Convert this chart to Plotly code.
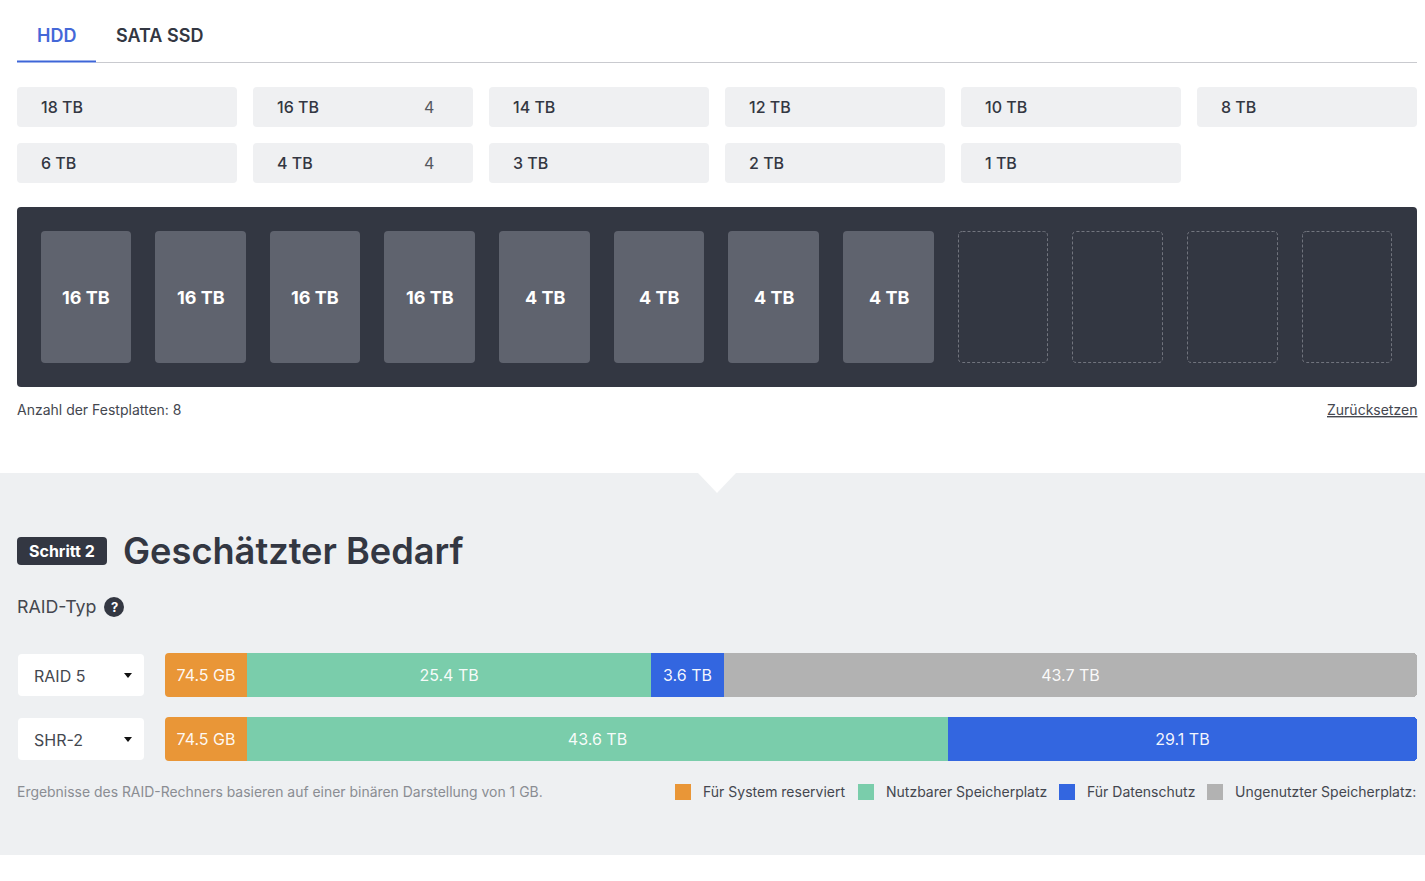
import plotly.graph_objects as go

W, H = 1425, 881
FONT = "Inter, 'Noto Sans', sans-serif"
DARK = "#333742"
BG = "#eef0f2"

tabs = ["HDD", "SATA SSD"]
capacities = ["18 TB", "16 TB", "14 TB", "12 TB", "10 TB", "8 TB",
              "6 TB", "4 TB", "3 TB", "2 TB", "1 TB"]
capacity_counts = ["", "4", "", "", "", "", "", "4", "", "", ""]
bays = ["16 TB", "16 TB", "16 TB", "16 TB", "4 TB", "4 TB", "4 TB", "4 TB", "", "", "", ""]

raid_types = ["RAID 5", "SHR-2"]
series_names = ["Für System reserviert", "Nutzbarer Speicherplatz", "Für Datenschutz", "Ungenutzter Speicherplatz:"]
series_colors = ["#e99637", "#7acdab", "#3366e0", "#b2b2b2"]
# Share of each bar's drawn length (percent)
system_share = [6.55, 6.55]
usable_share = [32.27, 55.99]
protect_share = [5.83, 37.46]
unused_share = [55.35, 0]
system_text = ["74.5 GB", "74.5 GB"]
usable_text = ["25.4 TB", "43.6 TB"]
protect_text = ["3.6 TB", "29.1 TB"]
unused_text = ["43.7 TB", ""]

fx = lambda x: x / W
fy = lambda y: 1 - y / H


def rrect(x0, y0, x1, y1, r=4):
    pts = [("M", x0 + r, y0), ("L", x1 - r, y0), ("Q", x1, y0, x1, y0 + r), ("L", x1, y1 - r),
           ("Q", x1, y1, x1 - r, y1), ("L", x0 + r, y1), ("Q", x0, y1, x0, y1 - r),
           ("L", x0, y0 + r), ("Q", x0, y0, x0 + r, y0)]
    out = []
    for p in pts:
        vals = p[1:]
        coords = [f"{fx(vals[i]):.6f},{fy(vals[i + 1]):.6f}" for i in range(0, len(vals), 2)]
        out.append(p[0] + " ".join(coords))
    return " ".join(out) + " Z"


def poly(points):
    return "M" + " L".join(f"{fx(x):.6f},{fy(y):.6f}" for x, y in points) + " Z"


shapes, notes = [], []


def box(x0, y0, x1, y1, fill, r=4, line=None, dash=None, layer="below"):
    shapes.append(dict(type="path", xref="paper", yref="paper", path=rrect(x0, y0, x1, y1, r),
                       fillcolor=fill, layer=layer,
                       line=dict(width=1 if line else 0, color=line or fill, dash=dash or "solid")))


def shape_poly(points, fill, layer="below"):
    shapes.append(dict(type="path", xref="paper", yref="paper", path=poly(points),
                       fillcolor=fill, layer=layer, line=dict(width=0)))


def text(x, y, s, size=14, color=DARK, weight=400, anchor="left"):
    notes.append(dict(xref="paper", yref="paper", x=fx(x), y=fy(y), text=s, showarrow=False,
                      xanchor=anchor, yanchor="middle", borderpad=0, borderwidth=0,
                      font=dict(family=FONT, size=size, color=color, weight=weight)))


# Tabs
box(96, 62, 1417, 63, "#c9cacf", r=0)
box(17, 60.5, 96, 62.5, "#3e66d8", r=0)
text(37, 35.5, tabs[0], 18, "#4468d8", 600)
text(116, 35.5, tabs[1], 18, DARK, 600)

# Capacity buttons
for i, (cap, cnt) in enumerate(zip(capacities, capacity_counts)):
    col, row = i % 6, i // 6
    x0 = 17 + 236 * col
    y0 = 87 + 56 * row
    box(x0, y0, x0 + 220, y0 + 40, "#eff0f2")
    text(x0 + 23.6, y0 + 20, cap, 16, DARK, 500)
    if cnt:
        text(x0 + 175.5, y0 + 20, cnt, 16, "#55585f", 400, "center")

# Drive bays
box(17, 207, 1417, 387, DARK)
bay_x0 = [41, 155, 270, 384, 499, 614, 728, 843, 958, 1072, 1187, 1302]
bay_x1 = [131, 246, 360, 475, 590, 704, 819, 934, 1048, 1163, 1278, 1392]
for x0, x1, label in zip(bay_x0, bay_x1, bays):
    if label:
        box(x0, 231, x1, 363, "#5f636e")
        text((x0 + x1) / 2, 297, label, 18, "#ffffff", 700, "center")
    else:
        box(x0 + 0.5, 231.5, x1 - 0.5, 362.5, DARK, line="#72757e", dash="3px,2px")
text(17, 409.5, "Anzahl der Festplatten: 8", 14, "#44474f")
text(1416.5, 409.5, "<u>Zurücksetzen</u>", 14, "#44474f", 400, "right")

# Lower section
shapes.append(dict(type="rect", xref="paper", yref="paper", x0=0, x1=1, y0=fy(855), y1=fy(473),
                   fillcolor=BG, layer="below", line=dict(width=0)))
shape_poly([(698, 473), (736, 473), (717, 493)], "#ffffff")
box(17, 537, 107, 565, DARK)
text(61.5, 551, "Schritt 2", 16, "#ffffff", 700, "center")
text(123, 551, "Geschätzter Bedarf", 36.2, DARK, 600)
text(17, 606.5, "RAID-Typ", 17.8, "#44474f")
shapes.append(dict(type="circle", xref="paper", yref="paper", x0=fx(104), x1=fx(124), y0=fy(617), y1=fy(597),
                   fillcolor=DARK, layer="below", line=dict(width=0)))
text(114, 607, "?", 13, "#ffffff", 700, "center")

# RAID selects
for i, name in enumerate(raid_types):
    y0 = 654 + 64 * i
    box(18, y0, 144, y0 + 42, "#ffffff")
    text(33.6, y0 + 22, name, 16, "#44474f")
    shape_poly([(124, y0 + 19), (132, y0 + 19), (128, y0 + 24)], "#111111")

# Footnote and legend
text(16.6, 791.5, "Ergebnisse des RAID-Rechners basieren auf einer binären Darstellung von 1 GB.", 13.95, "#8a8d93")
for x_sw, x_txt, name, color in zip([675, 858, 1059, 1207], [703, 886, 1087, 1235], series_names, series_colors):
    box(x_sw, 784, x_sw + 16, 800, color, r=0)
    text(x_txt, 791.5, name, 14, "#44474f")

# Left corners of the stacked bars
for yc in (675, 739):
    for y in (yc - 22, yc + 22):
        d = 1 if y < yc else -1
        p = (f"M{fx(165):.6f},{fy(y):.6f} L{fx(169):.6f},{fy(y):.6f} "
             f"Q{fx(165):.6f},{fy(y):.6f} {fx(165):.6f},{fy(y + 4 * d):.6f} Z")
        shapes.append(dict(type="path", xref="paper", yref="paper", path=p, fillcolor=BG,
                           layer="above", line=dict(width=0)))

fig = go.Figure()
for vals, labels, name, color in zip(
    [system_share, usable_share, protect_share, unused_share],
    [system_text, usable_text, protect_text, unused_text],
    series_names, series_colors,
):
    fig.add_trace(go.Bar(
        y=raid_types, x=vals, orientation="h", name=name, text=labels,
        marker=dict(color=color, line=dict(width=0)),
        textposition="inside", insidetextanchor="middle", textangle=0, constraintext="none",
        textfont=dict(family=FONT, size=16, color="rgba(255,255,255,0.95)"),
        hoverinfo="skip", cliponaxis=False,
    ))

fig.update_layout(
    width=W, height=H, margin=dict(l=0, r=0, t=0, b=0),
    paper_bgcolor="#ffffff", plot_bgcolor="rgba(0,0,0,0)",
    barmode="stack", bargap=0.3125, barcornerradius=4, showlegend=False,
    xaxis=dict(domain=[fx(165), fx(1417)], range=[0, 100], visible=False, fixedrange=True),
    yaxis=dict(domain=[fy(771), fy(643)], categoryorder="array", categoryarray=raid_types,
               autorange="reversed", visible=False, fixedrange=True),
    shapes=shapes, annotations=notes,
)

fig.write_html("out.html", config=dict(displayModeBar=False),
               post_script="document.body.style.margin='0';document.documentElement.style.overflow='hidden';")
